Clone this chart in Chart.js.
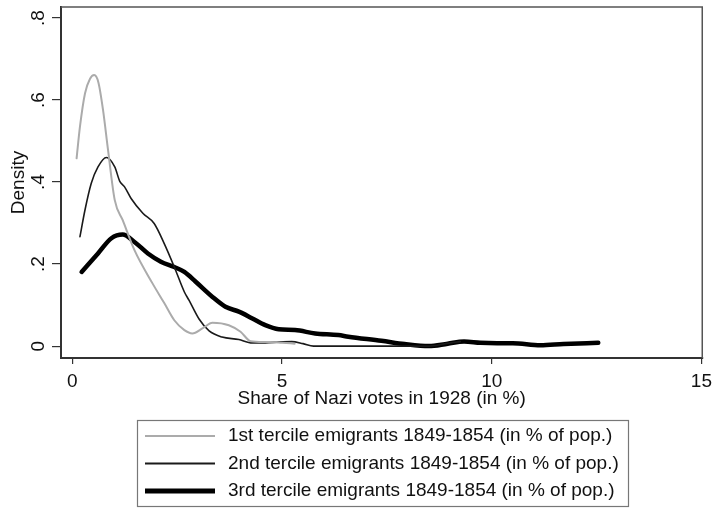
<!DOCTYPE html>
<html>
<head>
<meta charset="utf-8">
<script src="https://cdn.jsdelivr.net/npm/chart.js@4.4.1/dist/chart.umd.min.js"></script>
<style>
  html, body { margin: 0; padding: 0; background: #fff; }
  #wrap { width: 718px; height: 508px; position: relative; }
</style>
</head>
<body>
<div id="wrap"><canvas id="chart"></canvas></div>
<script>
const SERIES_LABELS = [
  '1st tercile emigrants 1849-1854 (in % of pop.)',
  '2nd tercile emigrants 1849-1854 (in % of pop.)',
  '3rd tercile emigrants 1849-1854 (in % of pop.)',
];

const X_TICKS = [0, 5, 10, 15];
const Y_TICKS = [0, 0.2, 0.4, 0.6, 0.8];

// 1st tercile (light grey)
const t1X = [0.10, 0.18, 0.30, 0.42, 0.52, 0.62, 0.73, 0.85, 1.01, 1.20, 1.48, 1.91, 2.19, 2.43, 2.67, 2.86, 3.10, 3.34, 3.73, 4.01, 4.25, 4.60, 5.00, 5.30];
const t1Y = [0.458, 0.535, 0.616, 0.652, 0.661, 0.643, 0.576, 0.478, 0.356, 0.307, 0.234, 0.153, 0.105, 0.063, 0.039, 0.031, 0.043, 0.057, 0.051, 0.035, 0.012, 0.010, 0.008, 0.006];

// 2nd tercile (thin black)
const t2X = [0.18, 0.30, 0.45, 0.61, 0.81, 1.01, 1.13, 1.24, 1.40, 1.68, 1.95, 2.19, 2.43, 2.67, 2.78, 3.02, 3.26, 3.57, 3.97, 4.25, 4.60, 4.92, 5.23, 5.50, 5.75, 7.00, 8.50, 8.90, 9.25];
const t2Y = [0.267, 0.332, 0.397, 0.437, 0.460, 0.437, 0.402, 0.389, 0.360, 0.324, 0.299, 0.250, 0.193, 0.132, 0.112, 0.066, 0.037, 0.022, 0.016, 0.008, 0.008, 0.010, 0.011, 0.006, 0.000, 0.000, 0.000, 0.006, 0.011];

// 3rd tercile (thick black)
const t3X = [0.22, 0.61, 0.93, 1.20, 1.48, 1.80, 2.11, 2.43, 2.67, 2.94, 3.34, 3.65, 3.97, 4.28, 4.60, 4.92, 5.31, 5.79, 6.34, 6.58, 7.37, 7.92, 8.50, 8.95, 9.34, 9.73, 10.13, 10.50, 11.16, 11.71, 12.54];
const t3Y = [0.181, 0.226, 0.263, 0.272, 0.254, 0.226, 0.206, 0.193, 0.181, 0.157, 0.120, 0.096, 0.084, 0.068, 0.051, 0.041, 0.039, 0.031, 0.027, 0.023, 0.013, 0.005, 0.000, 0.006, 0.011, 0.008, 0.007, 0.007, 0.002, 0.005, 0.008];

const FONT = 'Liberation Sans, Arial, sans-serif';

function toPoints(xs, ys) {
  return xs.map((x, i) => ({ x, y: ys[i] }));
}

function fmtY(v) {
  if (v === 0) return '0';
  return String(Math.round(v * 10) / 10).replace(/^0/, '');
}

const frame = {
  id: 'frame',
  afterDraw(chart) {
    const { ctx, chartArea: a } = chart;
    ctx.save();
    ctx.strokeStyle = '#555';
    ctx.lineWidth = 1.5;
    ctx.beginPath();
    ctx.moveTo(a.left, a.top);
    ctx.lineTo(a.right, a.top);
    ctx.lineTo(a.right, a.bottom);
    ctx.stroke();

    // rotated y tick labels, stata style
    const ys = chart.scales.y;
    ctx.fillStyle = '#111';
    ctx.font = '19px ' + FONT;
    ctx.textAlign = 'center';
    ctx.textBaseline = 'middle';
    ys.ticks.forEach((t) => {
      const py = ys.getPixelForValue(t.value);
      ctx.save();
      ctx.translate(39, py);
      ctx.rotate(-Math.PI / 2);
      ctx.fillText(fmtY(t.value), 0, 0);
      ctx.restore();
    });
    ctx.restore();
  },
};

const boxLegend = {
  id: 'boxLegend',
  afterDraw(chart) {
    const { ctx } = chart;
    const left = 137, top = 420, right = 628, bottom = 506;
    ctx.save();
    ctx.strokeStyle = '#777';
    ctx.lineWidth = 1.2;
    ctx.strokeRect(left + 0.5, top + 0.5, right - left, bottom - top);
    ctx.font = '19px ' + FONT;
    ctx.textBaseline = 'middle';
    ctx.fillStyle = '#111';
    chart.data.datasets.forEach((ds, i) => {
      const y = 436 + i * 27.5;
      ctx.strokeStyle = ds.borderColor;
      ctx.lineWidth = i === 2 ? 5 : 2;
      ctx.beginPath();
      ctx.moveTo(145, y);
      ctx.lineTo(215, y);
      ctx.stroke();
      ctx.fillText(ds.label, 228, y);
    });
    ctx.restore();
  },
};

new Chart(document.getElementById('chart'), {
  type: 'line',
  data: {
    datasets: [
      {
        label: SERIES_LABELS[0],
        data: toPoints(t1X, t1Y),
        borderColor: '#ababab',
        borderWidth: 2,
      },
      {
        label: SERIES_LABELS[1],
        data: toPoints(t2X, t2Y),
        borderColor: '#1a1a1a',
        borderWidth: 1.6,
      },
      {
        label: SERIES_LABELS[2],
        data: toPoints(t3X, t3Y),
        borderColor: '#000',
        borderWidth: 4.5,
      },
    ],
  },
  options: {
    responsive: true,
    maintainAspectRatio: false,
    animation: false,
    parsing: false,
    elements: {
      point: { radius: 0 },
      line: { cubicInterpolationMode: 'monotone', borderCapStyle: 'round', borderJoinStyle: 'round', fill: false },
    },
    layout: { padding: { top: 7, right: 11, bottom: 98, left: 0 } },
    plugins: {
      legend: { display: false },
      tooltip: { enabled: false },
    },
    scales: {
      x: {
        type: 'linear',
        min: -0.272,
        max: 15.02,
        afterBuildTicks: (s) => { s.ticks = X_TICKS.map((v) => ({ value: v })); },
        afterFit: (s) => { s.height = 52; },
        grid: { drawOnChartArea: false, tickLength: 6, color: '#333', lineWidth: 1.2 },
        border: { color: '#333', width: 2 },
        ticks: { color: '#111', font: { family: FONT, size: 19 }, padding: 6, maxRotation: 0, autoSkip: false },
        title: { display: true, text: 'Share of Nazi votes in 1928 (in %)', color: '#111', font: { family: FONT, size: 19 }, padding: { top: 0, bottom: 0 } },
      },
      y: {
        type: 'linear',
        min: -0.029,
        max: 0.827,
        afterBuildTicks: (s) => { s.ticks = Y_TICKS.map((v) => ({ value: v })); },
        afterFit: (s) => { s.width = 61; },
        grid: { drawOnChartArea: false, tickLength: 9, color: '#333', lineWidth: 1.2 },
        border: { color: '#333', width: 2 },
        ticks: { display: false },
        title: { display: true, text: 'Density', color: '#111', font: { family: FONT, size: 19 }, padding: { top: 7, bottom: 0 } },
      },
    },
  },
  plugins: [frame, boxLegend],
});
</script>
</body>
</html>
